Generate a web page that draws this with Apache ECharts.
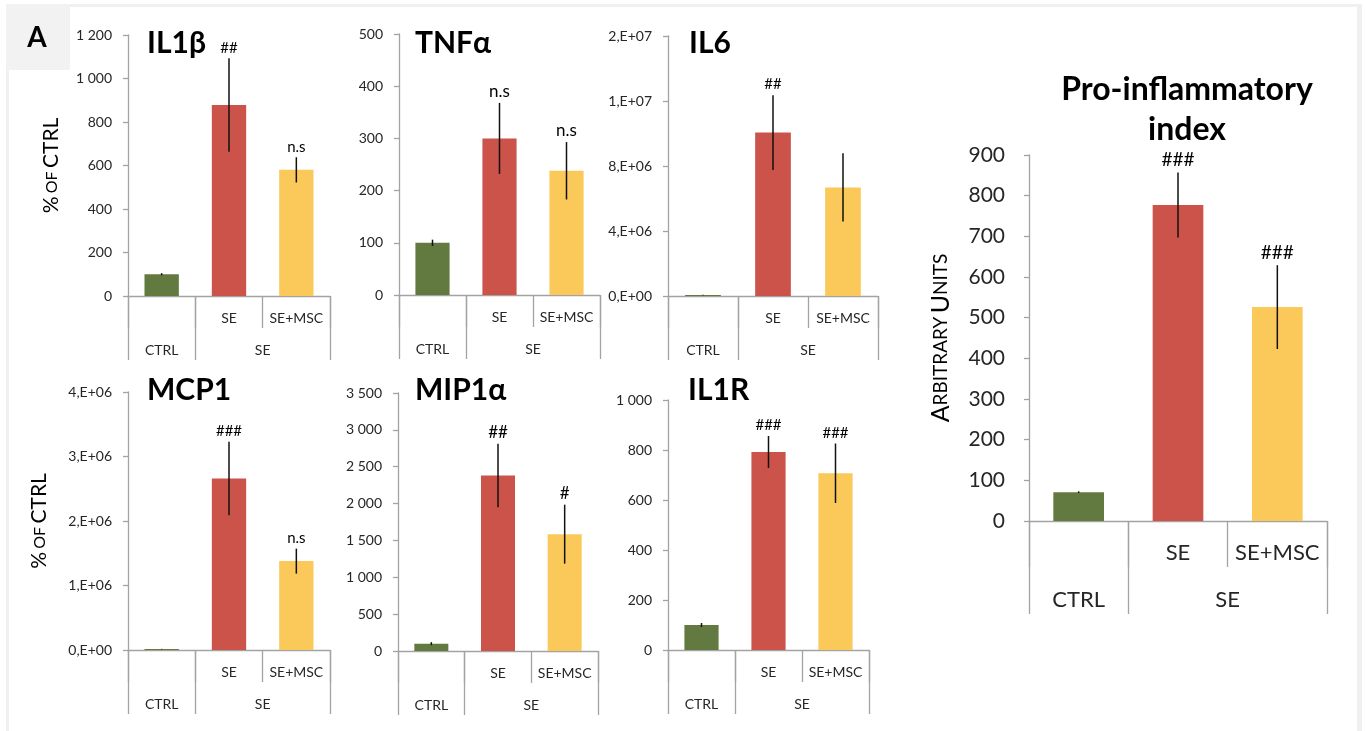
<!DOCTYPE html>
<html>
<head>
<meta charset="utf-8">
<script src="https://cdn.jsdelivr.net/npm/echarts@6/dist/echarts.min.js"></script>
<style>
html,body{margin:0;padding:0;background:#fff;}
#c{width:1366px;height:731px;}
</style>
</head>
<body>
<div id="c"></div>
<script>
// ---- data ----
const categories = ['CTRL', 'SE', 'SE+MSC'];
const subLabels = ['', 'SE', 'SE+MSC'];
const groupLabels = ['CTRL', 'SE'];

const il1bMean = [100, 878, 580];
const il1bErr = [5, 215, 58];
const il1bAnn = ['', '##', 'n.s'];

const tnfMean = [100, 300, 238];
const tnfErr = [6, 68, 55];
const tnfAnn = ['', 'n.s', 'n.s'];

const il6Mean = [60000, 10060000, 6680000];
const il6Err = [20000, 2300000, 2100000];
const il6Ann = ['', '##', ''];

const mcp1Mean = [15000, 2660000, 1378000];
const mcp1Err = [3000, 570000, 194000];
const mcp1Ann = ['', '###', 'n.s'];

const mip1aMean = [100, 2380, 1585];
const mip1aErr = [20, 430, 400];
const mip1aAnn = ['', '##', '#'];

const il1rMean = [100, 792, 707];
const il1rErr = [8, 64, 119];
const il1rAnn = ['', '###', '###'];

const proMean = [71, 777, 526];
const proErr = [2, 80, 103];
const proAnn = ['', '###', '###'];

const barColors = ['#62793F', '#CB5349', '#FAC95A'];

// ---- formatting ----
const fmtThou = v => v >= 1000 ? Math.floor(v / 1000) + ' ' + String(v % 1000).padStart(3, '0') : String(v);
const fmtExp = v => {
  if (v === 0) return '0,E+00';
  let e = Math.floor(Math.log10(v));
  let m = Math.round(v / Math.pow(10, e));
  if (m >= 10) { m = 1; e++; }
  return m + ',E+' + String(e).padStart(2, '0');
};

// ---- layout ----
const small = {tick: 14, cat: 14, ann: 15, lvl1: 32, lvl2: 64, m1: 15, m2: 47};
const panels = [
  {title: 'IL1β', mean: il1bMean, err: il1bErr, ann: il1bAnn, grid: {left: 128, top: 35, width: 202, height: 261}, max: 1200, interval: 200, fmt: fmtThou, name: true, nameGap: 66, tx: 147, ty: 43, s: small},
  {title: 'TNFα', mean: tnfMean, err: tnfErr, ann: tnfAnn, grid: {left: 399, top: 34, width: 201, height: 261}, max: 500, interval: 100, fmt: fmtThou, name: false, tx: 415, ty: 43, s: Object.assign({}, small, {ann: 17})},
  {title: 'IL6', mean: il6Mean, err: il6Err, ann: il6Ann, grid: {left: 668, top: 36, width: 210, height: 260}, max: 16000000, interval: 4000000, fmt: fmtExp, name: false, tx: 689, ty: 43, s: small},
  {title: 'MCP1', mean: mcp1Mean, err: mcp1Err, ann: mcp1Ann, grid: {left: 128, top: 392, width: 202, height: 258}, max: 4000000, interval: 1000000, fmt: fmtExp, name: true, nameGap: 78, tx: 147, ty: 390, s: small},
  {title: 'MIP1α', mean: mip1aMean, err: mip1aErr, ann: mip1aAnn, grid: {left: 398, top: 393, width: 200, height: 258}, max: 3500, interval: 500, fmt: fmtThou, name: false, tx: 415, ty: 390, s: Object.assign({}, small, {ann: 17})},
  {title: 'IL1R', mean: il1rMean, err: il1rErr, ann: il1rAnn, grid: {left: 668, top: 400, width: 201, height: 250}, max: 1000, interval: 200, fmt: fmtThou, name: false, tx: 688, ty: 390, s: small},
  {title: null, mean: proMean, err: proErr, ann: proAnn, grid: {left: 1029, top: 155, width: 298, height: 366}, max: 900, interval: 100, fmt: fmtThou, name: 'pro', nameGap: 76, s: {tick: 21, cat: 22, ann: 19, lvl1: 46, lvl2: 93, m1: 21, m2: 68}}
];

const FONT = 'Lato';
const axisGray = '#A3A3A3';
const textCol = '#262626';

const grid = [], xAxis = [], yAxis = [], series = [], title = [];

panels.forEach((p, k) => {
  grid.push(Object.assign({containLabel: false}, p.grid));
  const s = p.s;
  // level-1 category axis
  xAxis.push({
    type: 'category', gridIndex: k, data: categories, position: 'bottom',
    axisLine: {show: true, lineStyle: {color: axisGray, width: 1.3}},
    axisTick: {show: true, interval: 0, length: s.lvl1, lineStyle: {color: axisGray, width: 1.3}},
    axisLabel: {interval: 0, margin: s.m1, formatter: (v, i) => subLabels[i], color: textCol, fontFamily: FONT, fontSize: s.cat, lineHeight: s.cat},
    splitLine: {show: false}
  });
  // level-2 group axis
  xAxis.push({
    type: 'value', gridIndex: k, position: 'bottom', min: 0, max: 3,
    axisLine: {show: false},
    axisTick: {show: true, customValues: [0, 1, 3], length: s.lvl2, lineStyle: {color: axisGray, width: 1.3}},
    axisLabel: {customValues: [0.5, 2], margin: s.m2, formatter: v => (v < 1 ? groupLabels[0] : groupLabels[1]), color: textCol, fontFamily: FONT, fontSize: s.cat, lineHeight: s.cat},
    splitLine: {show: false}
  });
  const y = {
    type: 'value', gridIndex: k, min: 0, max: p.max, interval: p.interval,
    axisLine: {show: true, lineStyle: {color: axisGray, width: 1.3}},
    axisTick: {show: true, length: 5, lineStyle: {color: axisGray, width: 1.3}},
    axisLabel: {formatter: p.fmt, margin: k === 6 ? 24 : 16, color: textCol, fontFamily: FONT, fontSize: s.tick},
    splitLine: {show: false}
  };
  if (p.name === true) {
    Object.assign(y, {
      name: '{a|%} {b|OF} {a|CTRL}', nameLocation: 'middle', nameRotate: 90, nameGap: p.nameGap,
      nameTextStyle: {rich: {a: {fontFamily: FONT, fontSize: 21, color: '#000'}, b: {fontFamily: FONT, fontSize: 16, color: '#000'}}}
    });
  } else if (p.name === 'pro') {
    Object.assign(y, {
      name: '{a|A}{b|RBITRARY} {a|U}{b|NITS}', nameLocation: 'middle', nameRotate: 90, nameGap: p.nameGap,
      nameTextStyle: {rich: {a: {fontFamily: FONT, fontSize: 25, color: '#000'}, b: {fontFamily: FONT, fontSize: 19, color: '#000'}}}
    });
  }
  yAxis.push(y);

  series.push({
    type: 'bar', xAxisIndex: 2 * k, yAxisIndex: k, barWidth: '51%',
    data: p.mean.map((v, i) => ({value: v, itemStyle: {color: barColors[i]}})),
    silent: true
  });
  const ann = p.ann, annSize = s.ann;
  series.push({
    type: 'custom', xAxisIndex: 2 * k, yAxisIndex: k, silent: true, clip: false, z: 5,
    data: p.mean.map((v, i) => [i, v, p.err[i]]),
    encode: {x: 0, y: 1},
    renderItem: (params, api) => {
      const i = api.value(0), m = api.value(1), e = api.value(2);
      const top = api.coord([i, m + e]);
      const bot = api.coord([i, Math.max(0, m - e)]);
      const children = [{
        type: 'line', shape: {x1: top[0], y1: top[1], x2: bot[0], y2: bot[1]},
        style: {stroke: '#111', lineWidth: 1.5}
      }];
      const t = ann[params.dataIndex];
      if (t) {
        children.push({
          type: 'text',
          style: {text: t, x: top[0], y: top[1] - 3, align: 'center', verticalAlign: 'bottom',
                  font: annSize + 'px ' + FONT, fill: '#000'}
        });
      }
      return {type: 'group', children};
    }
  });

  if (p.title) {
    title.push({
      text: p.title, left: p.tx, top: p.ty - 17, padding: 0,
      textStyle: {fontFamily: FONT, fontWeight: 'bold', fontSize: 30, color: '#000', lineHeight: 34}
    });
  }
});

title.push({
  text: 'Pro-inflammatory\nindex', left: 1187, top: 70, padding: 0, textAlign: 'center',
  textStyle: {fontFamily: FONT, fontWeight: 'bold', fontSize: 32, color: '#000', lineHeight: 40}
});

const chart = echarts.init(document.getElementById('c'), null, {renderer: 'canvas'});
chart.setOption({
  backgroundColor: '#fff',
  animation: false,
  title, grid, xAxis, yAxis, series,
  graphic: [
    {type: 'rect', shape: {x: 6, y: 4, width: 1356, height: 3}, style: {fill: '#F0F0F0'}, silent: true},
    {type: 'rect', shape: {x: 6, y: 4, width: 3, height: 727}, style: {fill: '#F0F0F0'}, silent: true},
    {type: 'rect', shape: {x: 1357, y: 4, width: 5, height: 727}, style: {fill: '#F0F0F0'}, silent: true},
    {type: 'rect', shape: {x: 6, y: 4, width: 64, height: 66}, style: {fill: '#F2F2F2'}, silent: true},
    {type: 'text', x: 37, y: 38, style: {text: 'A', align: 'center', verticalAlign: 'middle', font: 'bold 28px Lato', fill: '#000'}, silent: true}
  ]
});
</script>
</body>
</html>
